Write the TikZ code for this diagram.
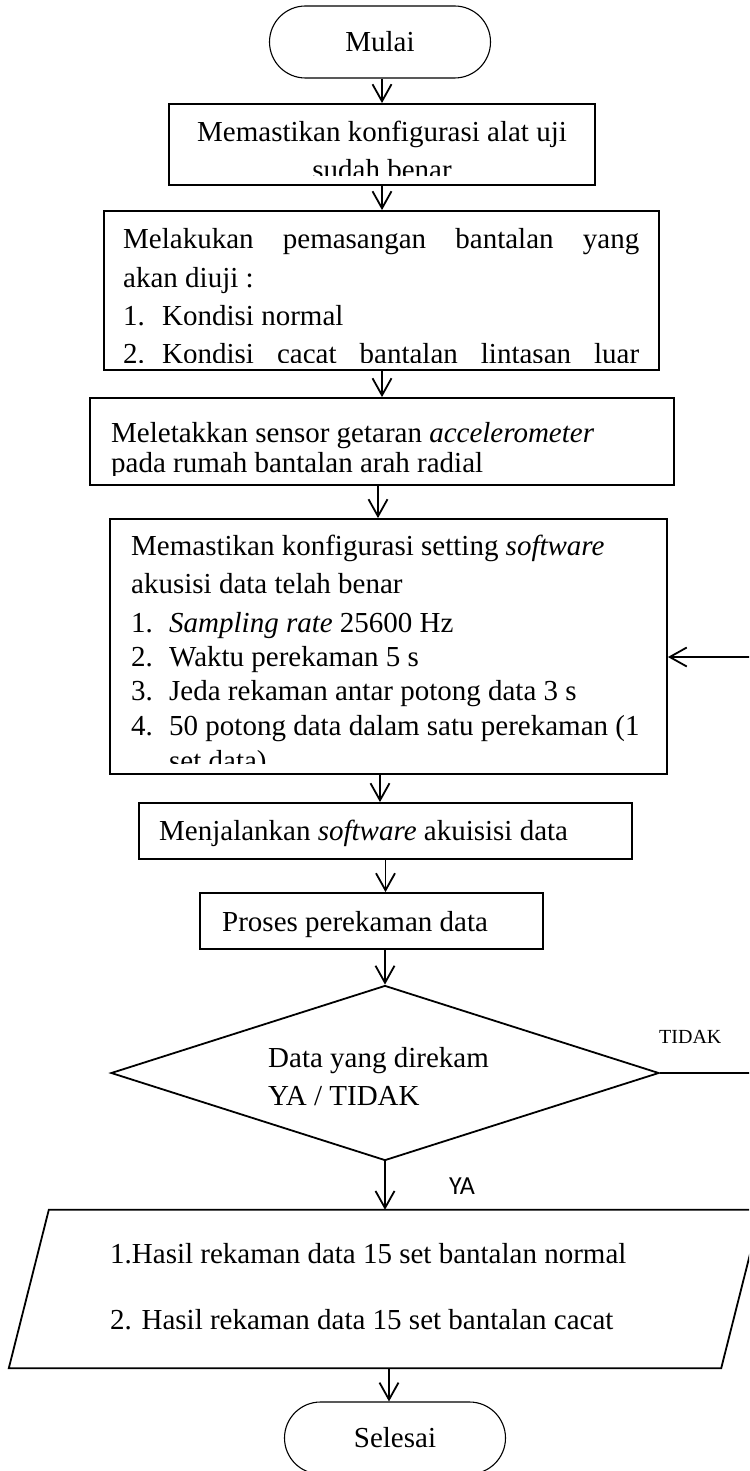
\documentclass[tikz,border=0pt]{standalone}
\usepackage{fontspec}
\setmainfont{Liberation Serif}
\newfontfamily\yafont{Carlito}
\usetikzlibrary{arrows.meta,shapes.geometric}
\begin{document}
\begin{tikzpicture}[x=1pt,y=-1pt,
  box/.style={draw, line width=1.8pt, inner sep=0pt},
  term/.style={draw, line width=1.1pt, rounded corners=36pt, minimum width=221pt, minimum height=72pt, inner sep=0pt},
  txt/.style={inner sep=0pt, anchor=base west},
  ctxt/.style={inner sep=0pt, anchor=base},
  arr/.style={line width=1.8pt, -{Straight Barb[length=17pt,width=19pt,line width=1.8pt]}},
  font=\fontsize{29}{35}\selectfont]
\useasboundingbox (0,0) rectangle (749,1471);
\clip (0,0) rectangle (749,1471);

% terminator start
\node[term] (mulai) at (380,42) {Mulai};

% box 2
\node[box, minimum width=426pt, minimum height=81pt] (b2) at (382,144.5) {};
\begin{scope}
\clip (169,104) rectangle (595,176);
\node[ctxt] (b2a) at (382,142) {Memastikan konfigurasi alat uji};
\node[ctxt] (b2b) at (382,180) {sudah benar};
\end{scope}

% box 3
\node[box, minimum width=555pt, minimum height=159pt] (b3) at (381.5,290.5) {};
\begin{scope}
\clip (104,211) rectangle (659,362);
\node[txt] (b3a) at (123,248) {\hbox to 516pt{Melakukan\hfill pemasangan\hfill bantalan\hfill yang}};
\node[txt] (b3b) at (123,287) {akan diuji :};
\node[txt] (b3c) at (123,325) {1.};
\node[txt] (b3d) at (162,325) {Kondisi normal};
\node[txt] (b3e) at (123,363) {2.};
\node[txt] (b3f) at (162,363) {\hbox to 477pt{Kondisi\hfill cacat\hfill bantalan\hfill lintasan\hfill luar}};
\end{scope}

% box 4
\node[box, minimum width=584pt, minimum height=87pt] (b4) at (382,441.5) {};
\begin{scope}
\clip (90,398) rectangle (674,475);
\node[txt] (b4a) at (111,442) {Meletakkan sensor getaran \textit{accelerometer}};
\node[txt] (b4b) at (111,472) {pada rumah bantalan arah radial};
\end{scope}

% box 5
\node[box, minimum width=557pt, minimum height=255pt] (b5) at (388.5,646.5) {};
\begin{scope}
\clip (110,519) rectangle (667,763);
\node[txt] (b5a) at (131,555) {Memastikan konfigurasi setting \textit{software}};
\node[txt] (b5b) at (131,593) {akusisi data telah benar};
\node[txt] (b5c) at (131,632) {1.};
\node[txt] (b5d) at (169,632) {\textit{Sampling rate} 25600 Hz};
\node[txt] (b5e) at (131,666) {2.};
\node[txt] (b5f) at (169,666) {Waktu perekaman 5 s};
\node[txt] (b5g) at (131,700) {3.};
\node[txt] (b5h) at (169,700) {Jeda rekaman antar potong data 3 s};
\node[txt] (b5i) at (131,735) {4.};
\node[txt] (b5j) at (169,735) {50 potong data dalam satu perekaman (1};
\node[txt] (b5k) at (169,770) {set data)};
\end{scope}

% box 6
\node[box, minimum width=493pt, minimum height=56pt] (b6) at (385.5,831) {};
\node[txt] (b6t) at (159,840) {Menjalankan \textit{software} akuisisi data};

% box 7
\node[box, minimum width=343pt, minimum height=56pt] (b7) at (371.5,921) {};
\node[txt] (b7t) at (222,931) {Proses perekaman data};

% decision
\node[draw, diamond, line width=1.8pt, minimum width=548pt, minimum height=175pt, inner sep=0pt] (dia) at (385,1073) {};
\node[txt] (d1) at (268,1067) {Data yang direkam};
\node[txt] (d2) at (268,1105) {YA / TIDAK};
\node[txt, font=\fontsize{20}{24}\selectfont] (tidak) at (659,1043) {TIDAK};
\node[txt, font=\yafont\fontsize{26}{30}\selectfont] (ya) at (449,1194) {YA};

% output parallelogram
\node[inner sep=0pt, minimum width=712pt, minimum height=158pt] (para) at (365,1289) {};
\draw[line width=1.8pt] ([xshift=40pt]para.north west) -- ([xshift=40pt]para.north east) -- (para.south east) -- (para.south west) -- cycle;
\node[txt] (p1) at (110,1263) {1.Hasil rekaman data 15 set bantalan normal};
\node[txt] (p2) at (110,1329) {2. Hasil rekaman data 15 set bantalan cacat};

% terminator end
\node[term] (selesai) at (395,1438) {Selesai};

% connectors
\draw[arr] (mulai.south -| b2.north) -- (b2.north);
\draw[arr] (b2.south) -- (b2.south |- b3.north);
\draw[arr] (b3.south -| b4.north) -- (b4.north);
\draw[arr] ([xshift=-4pt]b4.south) -- ([xshift=-4pt]b4.south |- b5.north);
\draw[arr] ([xshift=-8.5pt]b5.south) -- ([xshift=-8.5pt]b5.south |- b6.north);
\draw[arr] (b6.south) -- (b6.south |- b7.north);
\draw[arr] (b7.south -| dia.north) -- (dia.north);
\draw[arr] (dia.south) -- (dia.south |- para.north);
\draw[arr] ([xshift=-6pt]selesai.north |- para.south) -- ([xshift=-6pt]selesai.north);
\draw[arr] (dia.east) -- ++(100,0) |- ([yshift=-10.5pt]b5.east);
\end{tikzpicture}
\end{document}
